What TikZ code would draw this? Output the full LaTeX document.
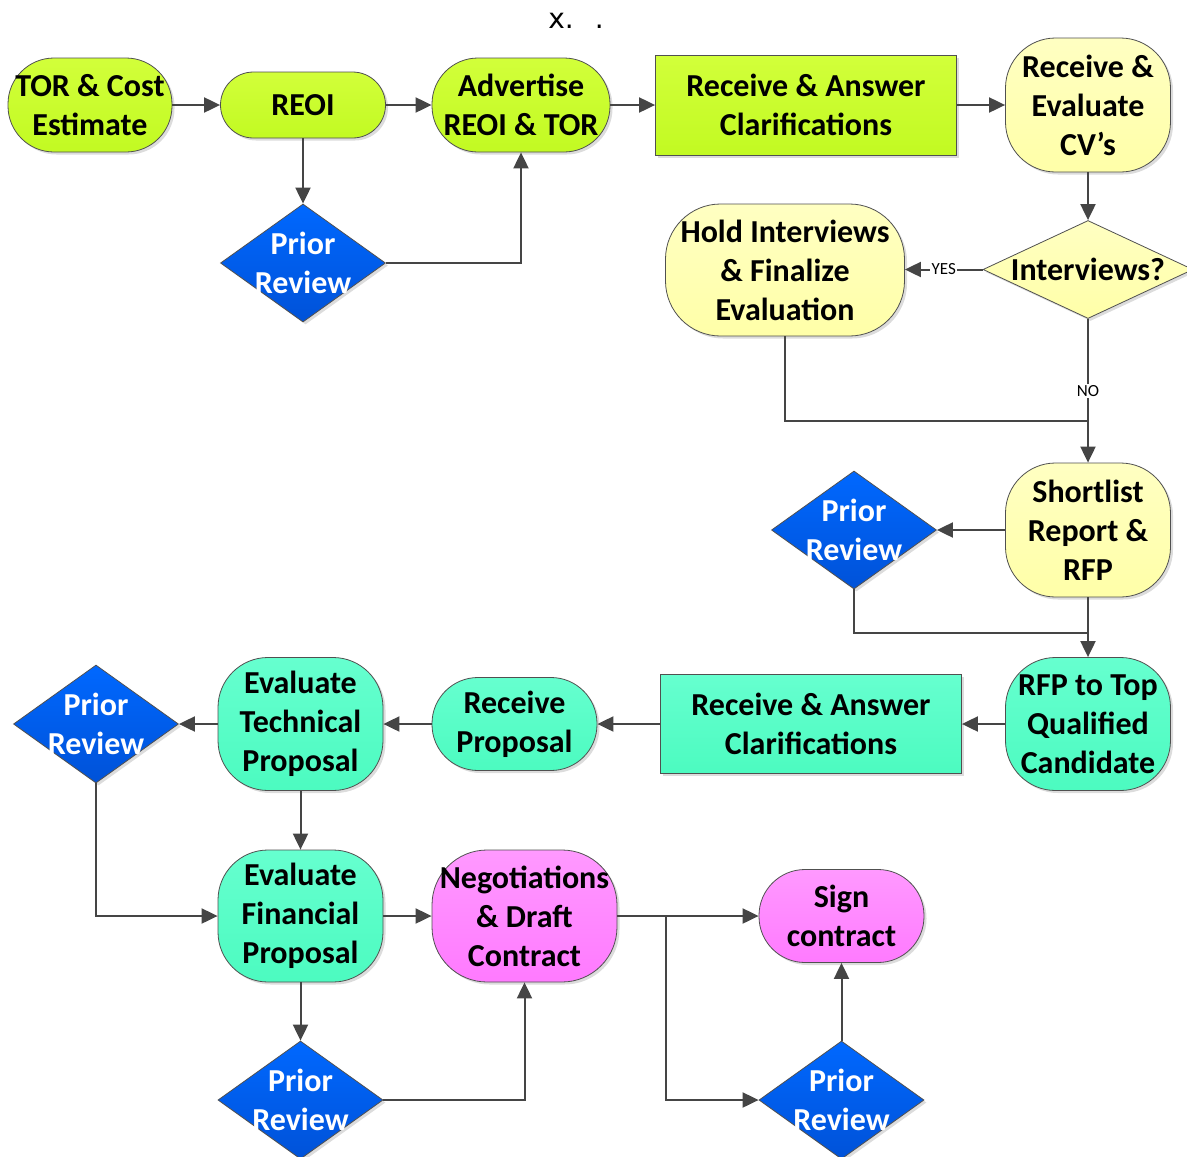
\documentclass[tikz,border=0pt]{standalone}
\usepackage{fontspec}
\setmainfont{Carlito}
\newfontfamily\topfont{DejaVu Sans}
\usetikzlibrary{shapes.geometric,arrows.meta,shadows}
\definecolor{cLimeT}{HTML}{D2FF3A}
\definecolor{cLimeB}{HTML}{C2FA22}
\definecolor{cYelT}{HTML}{FFFFC2}
\definecolor{cYelB}{HTML}{FFFFA8}
\definecolor{cTealT}{HTML}{66FFCF}
\definecolor{cTealB}{HTML}{4CFBC0}
\definecolor{cMagT}{HTML}{FF99FF}
\definecolor{cMagB}{HTML}{FF7AFF}
\definecolor{cBlueT}{HTML}{0068FF}
\definecolor{cBlueB}{HTML}{0052D8}
\definecolor{cEdge}{HTML}{505050}
\definecolor{cLine}{HTML}{454545}
\begin{document}
\begin{tikzpicture}[x=1pt,y=-1pt,
  every node/.style={font=\bfseries\fontsize{32}{39}\selectfont, align=center, inner sep=0pt},
  box/.style={draw=cEdge, line width=0.8pt,
     drop shadow={shadow xshift=2.5pt,shadow yshift=-2.5pt,opacity=0.28}},
  term/.style={box, rounded corners=46pt, minimum width=165pt},
  lime/.style={top color=cLimeT, bottom color=cLimeB},
  yel/.style={top color=cYelT, bottom color=cYelB},
  teal/.style={top color=cTealT, bottom color=cTealB},
  mag/.style={top color=cMagT, bottom color=cMagB},
  dia/.style={box, diamond, top color=cBlueT, bottom color=cBlueB,
     minimum width=165pt, minimum height=118pt},
  con/.style={draw=cLine, line width=2pt, -{Triangle[length=16pt,width=15pt]}},
  plain/.style={draw=cLine, line width=2pt},
  lab/.style={font=\fontsize{17}{19}\selectfont, fill=white, inner sep=1.5pt},
  ]
\useasboundingbox (0,0) rectangle (1187,1157);

\node[font=\topfont\fontsize{28}{30}\selectfont] (tx) at (576,21) {x.\hspace{21pt}.};

% row 1
\node[term, lime, minimum width=164pt, minimum height=94pt] (tor) at (90,105) {TOR \& Cost\\Estimate};
\node[term, lime, rounded corners=33pt, minimum height=66pt] (reoi) at (303,105) {REOI};
\node[term, lime, minimum width=178pt, minimum height=94pt] (adv) at (521,105) {Advertise\\REOI \& TOR};
\node[box, lime, minimum width=301pt, minimum height=100pt] (rc1) at (806,105) {Receive \& Answer\\Clarifications};
\node[term, yel, rounded corners=50pt, minimum height=134pt] (cv) at (1088,105) {Receive \&\\Evaluate\\CV’s};

\node[dia, label={[text=white]center:Prior\\Review}] (pr1) at (303,263) {};

% interviews
\node[box, diamond, yel, minimum width=210pt, minimum height=98pt, label={center:Interviews?}] (int) at (1088,269.5) {};
\node[term, yel, rounded corners=55pt, minimum width=239pt, minimum height=132pt] (hold) at (785,270) {Hold Interviews\\\& Finalize\\Evaluation};

% shortlist
\node[term, yel, rounded corners=50pt, minimum height=134pt] (short) at (1088,530) {Shortlist\\Report \&\\RFP};
\node[dia, label={[text=white]center:Prior\\Review}] (pr2) at (854,530) {};

% row 3
\node[term, teal, rounded corners=50pt, minimum height=133pt] (rfp) at (1088,724) {RFP to Top\\Qualified\\Candidate};
\node[box, teal, minimum width=301pt, minimum height=99pt] (rc2) at (811,724) {Receive \& Answer\\Clarifications};
\node[term, teal, minimum height=93pt] (rprop) at (514.5,724) {Receive\\Proposal};
\node[term, teal, rounded corners=50pt, minimum height=133pt] (etech) at (300.5,724) {Evaluate\\Technical\\Proposal};
\node[dia, label={[text=white]center:Prior\\Review}] (pr3) at (96,724) {};

% row 4
\node[term, teal, rounded corners=50pt, minimum height=132pt] (efin) at (300.5,916) {Evaluate\\Financial\\Proposal};
\node[term, mag, rounded corners=55pt, minimum width=185pt, minimum height=132pt] (neg) at (524.5,916) {Negotiations\\\& Draft\\Contract};
\node[term, mag, minimum height=93pt] (sign) at (841.5,916) {Sign\\contract};

% row 5
\node[dia, label={[text=white]center:Prior\\Review}] (pr4) at (300.5,1100) {};
\node[dia, label={[text=white]center:Prior\\Review}] (pr5) at (841.5,1100) {};

% connectors
\draw[con] (tor) -- (reoi);
\draw[con] (reoi) -- (adv);
\draw[con] (adv) -- (rc1);
\draw[con] (rc1) -- (cv);
\draw[con] (reoi) -- (pr1);
\draw[con] (pr1.east) -| (adv.south);
\draw[con] (cv) -- (int);
\draw[con] (int.west) -- node[lab]{YES} (int.west -| hold.east);
\draw[con] (int.south) -- node[lab]{NO} (short.north);
\coordinate (j1) at (short.north |- 0,421);
\draw[plain] (hold.south) |- (j1);
\draw[con] (short) -- (pr2);
\coordinate (j2) at (short.north |- 0,633);
\draw[plain] (pr2.south) |- (j2);
\draw[con] (short) -- (rfp);
\draw[con] (rfp) -- (rc2);
\draw[con] (rc2) -- (rprop);
\draw[con] (rprop) -- (etech);
\draw[con] (etech) -- (pr3);
\draw[con] (etech) -- (efin);
\draw[con] (pr3.south) |- (efin.west);
\draw[con] (efin) -- (neg);
\draw[con] (efin) -- (pr4);
\draw[con] (pr4.east) -| (neg.south);
\draw[con] (neg) -- (sign);
\coordinate (j3) at (666,916);
\draw[con] (j3) |- (pr5.west);
\draw[con] (pr5) -- (sign);
\end{tikzpicture}
\end{document}
